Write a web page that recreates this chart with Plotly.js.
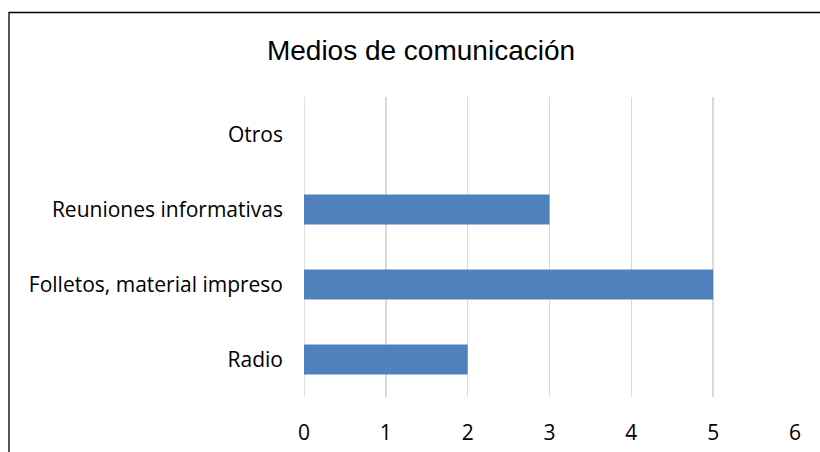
<!DOCTYPE html>
<html><head><meta charset="utf-8">
<script src="https://cdn.plot.ly/plotly-3.0.1.min.js"></script>
<style>body{margin:0;background:#fff}#c{width:820px;height:452px}</style>
</head><body><div id="c"></div>
<script>
const categories = ["Radio", "Folletos, material impreso", "Reuniones informativas", "Otros"];
const values = [2, 5, 3, 0];
const tickVals = [0, 1, 2, 3, 4, 5, 6];
const title = "Medios de comunicación";

const L = 304, R = 25, T = 97, B = 55, W = 820, H = 452;
const pw = W - L - R, ph = H - T - B;
const px = x => (x - L) / pw;
const py = y => (H - B - y) / ph;

Plotly.newPlot("c", [{
  type: "bar", orientation: "h", y: categories, x: values,
  marker: {color: "#4f81bd"}, width: 0.4, hoverinfo: "none"
}], {
  width: W, height: H,
  margin: {l: L, r: R, t: T, b: B, pad: 0},
  paper_bgcolor: "#fff", plot_bgcolor: "#fff",
  title: {text: title, xref: "container", x: 421 / W, xanchor: "center", yref: "container", y: 1 - 50 / H, yanchor: "middle",
          font: {family: "Liberation Sans, Arial", size: 28, color: "#000"}},
  xaxis: {range: [0, 6], tickvals: tickVals, showgrid: true, gridcolor: "#d9d9d9", gridwidth: 1.5,
          zeroline: false, showline: false, ticks: "", ticklabelstandoff: 21,
          tickfont: {family: "Open Sans, Noto Sans", size: 21, color: "#000"}, fixedrange: true},
  yaxis: {categoryorder: "array", categoryarray: categories, showgrid: false, zeroline: false,
          showline: false, ticks: "", ticklabelstandoff: 20,
          tickfont: {family: "Open Sans, Noto Sans", size: 21, color: "#000"}, fixedrange: true},
  shapes: [
    {type: "line", xref: "x", yref: "paper", x0: 0, x1: 0, y0: 0, y1: 1, layer: "below",
     line: {color: "#d9d9d9", width: 1.5}},
    {type: "path", xref: "paper", yref: "paper",
     path: `M ${px(9)} ${py(480)} L ${px(9)} ${py(12.5)} L ${px(900)} ${py(12.5)}`,
     line: {color: "#000", width: 1.3}}
  ],
  showlegend: false
}, {displayModeBar: false, staticPlot: true});
</script></body></html>
